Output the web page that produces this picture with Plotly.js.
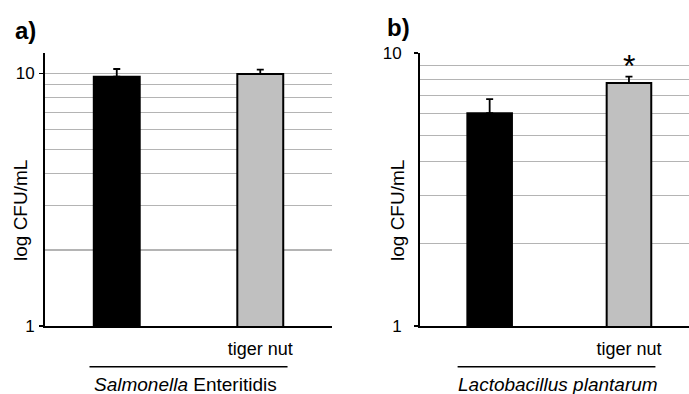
<!DOCTYPE html>
<html>
<head>
<meta charset="utf-8">
<script src="https://cdn.plot.ly/plotly-3.0.1.min.js"></script>
<style>html,body{margin:0;padding:0;background:#fff;}#chart{width:689px;height:394px;}</style>
</head>
<body>
<div id="chart"></div>
<script>
// Data
const categories = ["control", "tiger nut"];
const tickLabels = ["", "tiger nut"];
const salmonellaMeans = [9.69, 9.94];
const salmonellaErr = [0.71, 0.39];
const lactoMeans = [6.02, 7.76];
const lactoErr = [0.76, 0.43];
const barColors = ["#000000", "#c0c0c0"];
const yMajorTicks = [1, 10];
const yMajorLabels = ["1", "10"];
const yMinorTicks = [2, 3, 4, 5, 6, 7, 8, 9, 12];
const panelA = {label: "a)", organism: "<i>Salmonella</i> Enteritidis"};
const panelB = {label: "b)", organism: "<i>Lactobacillus plantarum</i>"};

const xIdx = categories.map((c, i) => i);
const font = "Liberation Sans, Arial, sans-serif";
const grid = "#b4b4b4";

function barTrace(vals, errs, xa, ya) {
  return {
    type: "bar", x: xIdx, y: vals, xaxis: xa, yaxis: ya, width: 0.32,
    marker: {color: barColors, line: {color: "#000", width: 2}},
    error_y: {type: "data", array: errs, arrayminus: errs.map(() => 0), symmetric: false,
              color: "#000", thickness: 1.8, width: 3.5},
    hoverinfo: "skip", showlegend: false
  };
}

function yAxis(top, standoff) {
  return {
    type: "log", range: [0, Math.log10(top)], showline: true, linecolor: "#000", linewidth: 2,
    ticks: "outside", ticklen: 4, tickwidth: 1.5, tickcolor: "#000",
    tickmode: "array", tickvals: yMajorTicks, ticktext: yMajorLabels,
    ticklabelstandoff: standoff,
    showgrid: true, gridcolor: grid, gridwidth: 1.2,
    minor: {tickmode: "array", tickvals: yMinorTicks, showgrid: true, gridcolor: grid, gridwidth: 1.2, ticks: ""},
    tickfont: {family: font, size: 17, color: "#000"}, zeroline: false, fixedrange: true
  };
}

function xAxis(domain, range, anchor) {
  return {
    domain: domain, range: range, anchor: anchor, showline: true, linecolor: "#000", linewidth: 2,
    tickmode: "array", tickvals: xIdx, ticktext: tickLabels, ticks: "", showgrid: false, zeroline: false,
    ticklabelstandoff: 5,
    tickfont: {family: font, size: 18, color: "#000"}, fixedrange: true
  };
}

const data = [
  barTrace(salmonellaMeans, salmonellaErr, "x", "y"),
  barTrace(lactoMeans, lactoErr, "x2", "y2")
];

const layout = {
  width: 689, height: 394, margin: {l: 45, r: 0, t: 53, b: 68},
  paper_bgcolor: "#fff", plot_bgcolor: "#fff",
  xaxis: xAxis([0, 0.4457], [-0.5, 1.5], "y"),
  yaxis: yAxis(12.03, 1),
  xaxis2: xAxis([0.5823, 1], [-0.5, 1.431], "y2"),
  yaxis2: Object.assign(yAxis(10, 9), {anchor: "x2"}),
  annotations: [
    {text: panelA.label, xref: "paper", yref: "paper", x: -0.05, y: 1.084, xanchor: "left", yanchor: "middle",
     showarrow: false, font: {family: font, size: 24, color: "#000", weight: "bold"}},
    {text: panelB.label, xref: "paper", yref: "paper", x: 0.5275, y: 1.095, xanchor: "left", yanchor: "middle",
     showarrow: false, font: {family: font, size: 24, color: "#000", weight: "bold"}},
    {text: "log CFU/mL", xref: "paper", yref: "paper", x: (21 - 45) / 644, y: (326 - 211) / 273, textangle: -90,
     xanchor: "center", yanchor: "middle", showarrow: false, font: {family: font, size: 19, color: "#000"}},
    {text: "log CFU/mL", xref: "paper", yref: "paper", x: (398 - 45) / 644, y: (326 - 211) / 273, textangle: -90,
     xanchor: "center", yanchor: "middle", showarrow: false, font: {family: font, size: 19, color: "#000"}},
    {text: panelA.organism, xref: "x", yref: "paper", x: 0.48, y: -0.216, xanchor: "center", yanchor: "middle",
     showarrow: false, font: {family: font, size: 19, color: "#000"}},
    {text: panelB.organism, xref: "x2", yref: "paper", x: 0.49, y: -0.216, xanchor: "center", yanchor: "middle",
     showarrow: false, font: {family: font, size: 19, color: "#000"}},
    {text: "*", xref: "x2", yref: "y2", x: 1, y: Math.log10(lactoMeans[1] + lactoErr[1]), xanchor: "center", yanchor: "bottom",
     yshift: -9, showarrow: false, font: {family: font, size: 32, color: "#000"}}
  ],
  shapes: [
    {type: "line", xref: "x", yref: "paper", x0: -0.19, x1: 1.19, y0: -0.149, y1: -0.149, line: {color: "#000", width: 1.5}},
    {type: "line", xref: "x2", yref: "paper", x0: -0.23, x1: 1.19, y0: -0.149, y1: -0.149, line: {color: "#000", width: 1.5}}
  ]
};

Plotly.newPlot("chart", data, layout, {displayModeBar: false, staticPlot: true});
</script>
</body>
</html>
